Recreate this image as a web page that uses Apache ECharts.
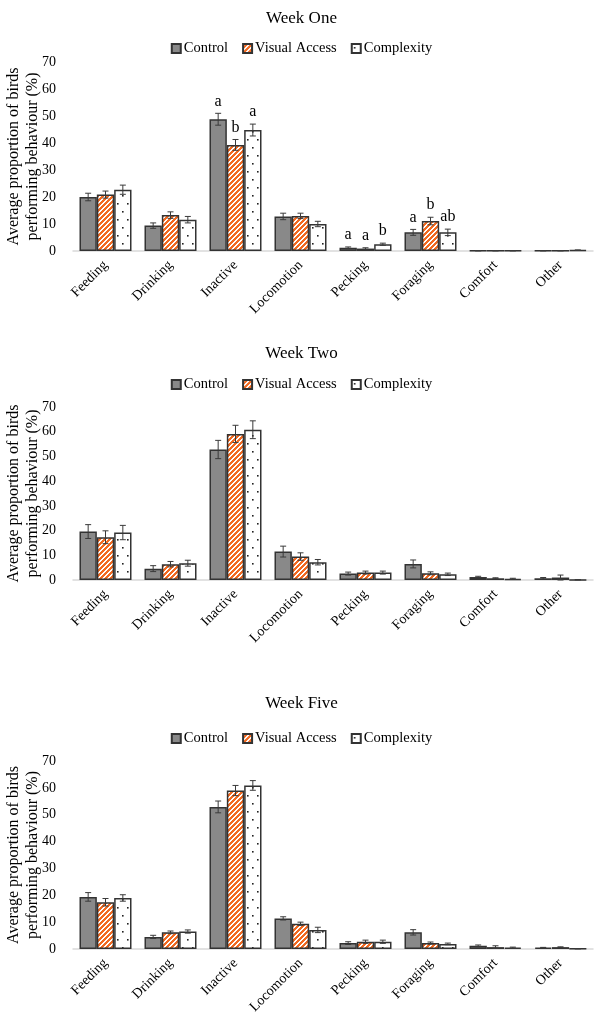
<!DOCTYPE html>
<html>
<head>
<meta charset="utf-8">
<script src="https://cdn.jsdelivr.net/npm/echarts@6/dist/echarts.min.js"></script>
<style>
  html, body { margin: 0; padding: 0; background: #fff; }
  #main { width: 603px; height: 1020px; }
</style>
</head>
<body>
<div id="main"></div>
<script>
const categories = ['Feeding', 'Drinking', 'Inactive', 'Locomotion', 'Pecking', 'Foraging', 'Comfort', 'Other'];
const groups = ['Control', 'Visual Access', 'Complexity'];
const yTicks = [0, 10, 20, 30, 40, 50, 60, 70];

// Week One
const w1Control = [20.0, 9.4, 48.8, 12.8, 1.2, 6.9, 0.1, 0.1];
const w1ControlErr = [1.4, 1.0, 2.2, 1.2, 0.3, 1.1, 0.05, 0.05];
const w1Visual = [20.9, 13.3, 39.3, 13.0, 0.9, 11.1, 0.1, 0.1];
const w1VisualErr = [1.3, 1.2, 2.0, 1.0, 0.3, 1.4, 0.05, 0.05];
const w1Complex = [22.7, 11.6, 44.8, 10.0, 2.5, 6.9, 0.1, 0.3];
const w1ComplexErr = [1.7, 1.2, 2.2, 1.0, 0.4, 1.2, 0.05, 0.1];
const w1ControlSig = ['', '', 'a', '', 'a', 'a', '', ''];
const w1VisualSig = ['', '', 'b', '', 'a', 'b', '', ''];
const w1ComplexSig = ['', '', 'a', '', 'b', 'ab', '', ''];

// Week Two
const w2Control = [19.6, 4.6, 52.8, 11.5, 2.6, 6.5, 1.2, 0.7];
const w2ControlErr = [2.8, 1.2, 3.7, 2.2, 0.6, 1.6, 0.3, 0.3];
const w2Visual = [17.3, 6.4, 59.1, 9.5, 3.0, 2.7, 0.7, 1.0];
const w2VisualErr = [2.6, 1.1, 3.5, 1.5, 0.6, 0.6, 0.2, 1.0];
const w2Complex = [19.2, 6.8, 60.8, 7.2, 3.0, 2.3, 0.5, 0.1];
const w2ComplexErr = [2.9, 1.2, 3.6, 1.1, 0.6, 0.5, 0.2, 0.05];

// Week Five
const w5Control = [19.4, 4.5, 52.9, 11.4, 2.2, 6.2, 1.2, 0.5];
const w5ControlErr = [1.6, 0.6, 2.2, 0.6, 0.5, 1.0, 0.3, 0.1];
const w5Visual = [17.4, 6.2, 59.0, 9.4, 2.7, 2.2, 0.7, 0.7];
const w5VisualErr = [1.4, 0.5, 1.9, 0.6, 0.6, 0.4, 0.5, 0.1];
const w5Complex = [19.0, 6.5, 60.9, 7.1, 2.7, 1.9, 0.5, 0.1];
const w5ComplexErr = [1.2, 0.6, 1.8, 1.0, 0.6, 0.3, 0.2, 0.05];

const FONT = '"Liberation Serif", "Times New Roman", serif';

function stripePattern() {
    let c = document.createElement('canvas');
    c.width = 5; c.height = 5;
    let ctx = c.getContext('2d');
    for (let x = 0; x < 5; x++) {
        for (let y = 0; y < 5; y++) {
            ctx.fillStyle = ((x + y) % 5 < 2) ? '#ffffff' : '#f26a21';
            ctx.fillRect(x, y, 1, 1);
        }
    }
    return c;
}

function dotPattern() {
    let c = document.createElement('canvas');
    c.width = 10; c.height = 16;
    let ctx = c.getContext('2d');
    ctx.fillStyle = '#ffffff';
    ctx.fillRect(0, 0, 10, 16);
    ctx.fillStyle = '#222222';
    ctx.fillRect(2, 3, 1.6, 1.6);
    ctx.fillRect(7, 11, 1.6, 1.6);
    return c;
}

const fills = [
    '#898989',
    { image: stripePattern(), repeat: 'repeat' },
    { image: dotPattern(), repeat: 'repeat' }
];

const weeks = [
    { title: 'Week One', titleTop: 5, legendTop: 36, gridTop: 62, gridHeight: 189,
      vals: [w1Control, w1Visual, w1Complex], errs: [w1ControlErr, w1VisualErr, w1ComplexErr],
      sig: [w1ControlSig, w1VisualSig, w1ComplexSig] },
    { title: 'Week Two', titleTop: 340, legendTop: 372, gridTop: 407, gridHeight: 173,
      vals: [w2Control, w2Visual, w2Complex], errs: [w2ControlErr, w2VisualErr, w2ComplexErr],
      sig: null },
    { title: 'Week Five', titleTop: 690, legendTop: 726, gridTop: 761, gridHeight: 188,
      vals: [w5Control, w5Visual, w5Complex], errs: [w5ControlErr, w5VisualErr, w5ComplexErr],
      sig: null }
];

function errorSeries(w, g, vals, errs, sig) {
    return {
        type: 'custom',
        xAxisIndex: w,
        yAxisIndex: w,
        z: 10,
        silent: true,
        data: vals.map((v, i) => [i, v, errs[i]]),
        renderItem: function (params, api) {
            let i = api.value(0), v = api.value(1), e = api.value(2);
            let band = api.size([1, 0])[0];
            let barW = band * 0.8 / 3;
            let x = api.coord([i, v])[0] + (g - 1) * barW;
            let yTop = api.coord([i, v + e])[1];
            let yBot = api.coord([i, Math.max(0, v - e)])[1];
            let cap = 3;
            let style = { stroke: '#3a3a3a', lineWidth: 1 };
            let children = [
                { type: 'line', shape: { x1: x, y1: yTop, x2: x, y2: yBot }, style: style },
                { type: 'line', shape: { x1: x - cap, y1: yTop, x2: x + cap, y2: yTop }, style: style },
                { type: 'line', shape: { x1: x - cap, y1: yBot, x2: x + cap, y2: yBot }, style: style }
            ];
            if (sig && sig[params.dataIndex]) {
                children.push({
                    type: 'text',
                    style: {
                        x: x, y: yTop - 4, text: sig[params.dataIndex],
                        align: 'center', verticalAlign: 'bottom',
                        font: '16px ' + FONT, fill: '#000'
                    }
                });
            }
            return { type: 'group', children: children };
        }
    };
}

let chartDom = document.getElementById('main');
let myChart = echarts.init(chartDom);
let option;

let titles = [], legends = [], grids = [], xAxes = [], yAxes = [], series = [];

weeks.forEach((wk, w) => {
    titles.push({
        text: wk.title,
        left: 'center',
        top: wk.titleTop,
        textStyle: { fontFamily: FONT, fontSize: 17, fontWeight: 'normal', color: '#000' }
    });
    legends.push({
        data: groups,
        top: wk.legendTop,
        left: 'center',
        icon: 'rect',
        itemWidth: 9,
        itemHeight: 9,
        itemGap: 14,
        textStyle: { fontFamily: FONT, fontSize: 14.5, color: '#000', padding: [0, 0, 0, -2] }
    });
    grids.push({ left: 73, right: 10, top: wk.gridTop, height: wk.gridHeight, outerBoundsMode: 'none', containLabel: false });
    xAxes.push({
        type: 'category',
        gridIndex: w,
        data: categories,
        axisLine: { lineStyle: { color: '#d9d9d9', width: 1.5 } },
        axisTick: { show: false },
        axisLabel: { rotate: 45, margin: 12, fontFamily: FONT, fontSize: 14, color: '#000', interval: 0 }
    });
    yAxes.push({
        type: 'value',
        gridIndex: w,
        min: yTicks[0],
        max: yTicks[yTicks.length - 1],
        interval: 10,
        name: 'Average proportion of birds\nperforming behaviour (%)',
        nameLocation: 'middle',
        nameRotate: 90,
        nameGap: 31,
        nameMoveOverlap: false,
        nameTextStyle: { fontFamily: FONT, fontSize: 16, color: '#000', lineHeight: 19 },
        axisLine: { show: false },
        axisTick: { show: false },
        splitLine: { show: false },
        axisLabel: { margin: 17, fontFamily: FONT, fontSize: 14, color: '#000' }
    });
    groups.forEach((name, g) => {
        series.push({
            name: name,
            type: 'bar',
            xAxisIndex: w,
            yAxisIndex: w,
            data: wk.vals[g],
            barGap: '0%',
            barCategoryGap: '20%',
            itemStyle: { color: fills[g], borderColor: '#333333', borderWidth: 1.5 }
        });
    });
    groups.forEach((name, g) => {
        series.push(errorSeries(w, g, wk.vals[g], wk.errs[g], wk.sig ? wk.sig[g] : null));
    });
});

option = {
    animation: false,
    backgroundColor: '#ffffff',
    title: titles,
    legend: legends,
    grid: grids,
    xAxis: xAxes,
    yAxis: yAxes,
    series: series
};

option && myChart.setOption(option);
</script>
</body>
</html>
